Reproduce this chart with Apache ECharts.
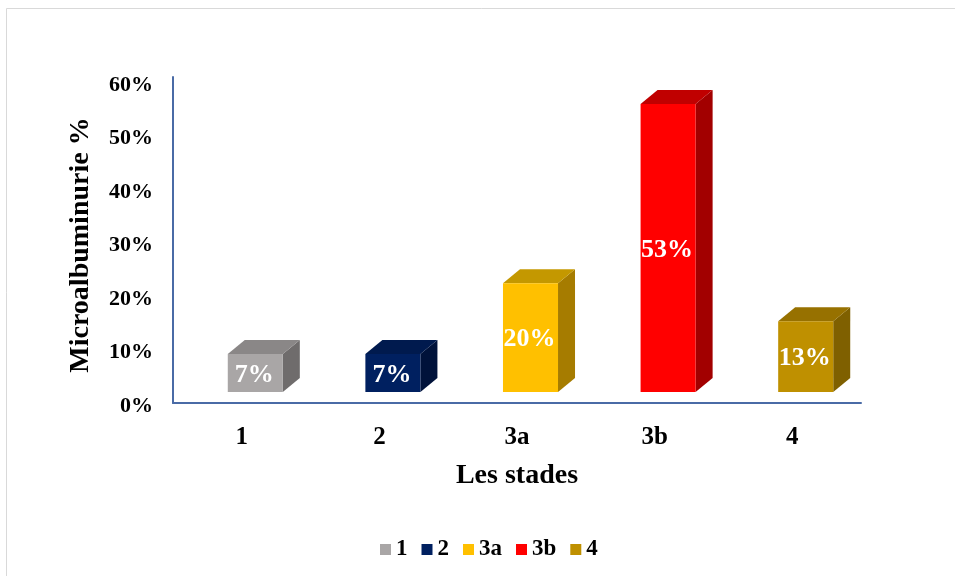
<!DOCTYPE html>
<html>
<head>
<meta charset="utf-8">
<script src="https://cdn.jsdelivr.net/npm/echarts@6/dist/echarts.min.js"></script>
<style>
  html, body { margin: 0; padding: 0; background: #ffffff; }
  #chart { width: 955px; height: 576px; }
</style>
</head>
<body>
<div id="chart"></div>
<script>
// Stades of the disease and share of patients with microalbuminuria (%)
const categories = ['1', '2', '3a', '3b', '4'];
const values = [7, 7, 20, 53, 13];

// Face colours of each 3D column: front, top, right side
const frontColors = ['#A9A6A6', '#002060', '#FFC000', '#FF0000', '#BF9000'];
const topColors   = ['#8A8787', '#001A4E', '#C49800', '#C00000', '#977100'];
const sideColors  = ['#6F6C6C', '#00123A', '#A67C00', '#A20000', '#7F6000'];

const FONT = "'Liberation Serif', 'Times New Roman', serif";
const DEPTH_X = 17;
const DEPTH_Y = 14;

function renderColumn(params, api) {
  const idx = params.seriesIndex;
  const topPt = api.coord([api.value(0), api.value(1)]);
  const basePt = api.coord([api.value(0), 0]);
  const w = api.size([1, 0])[0] * 0.4;
  const l = topPt[0] - w / 2;
  const r = topPt[0] + w / 2;
  const t = topPt[1];
  const b = basePt[1];
  return {
    type: 'group',
    children: [
      {
        type: 'polygon',
        shape: { points: [[r, t], [r + DEPTH_X, t - DEPTH_Y], [r + DEPTH_X, b - DEPTH_Y], [r, b]] },
        style: { fill: sideColors[idx] }
      },
      {
        type: 'polygon',
        shape: { points: [[l, t], [r, t], [r + DEPTH_X, t - DEPTH_Y], [l + DEPTH_X, t - DEPTH_Y]] },
        style: { fill: topColors[idx] }
      },
      {
        type: 'rect',
        shape: { x: l, y: t, width: w, height: b - t },
        style: { fill: frontColors[idx] }
      },
      {
        type: 'text',
        x: topPt[0] - 1,
        y: (t + b) / 2 + 2,
        style: {
          text: api.value(1) + '%',
          fill: '#ffffff',
          font: 'bold 26px ' + FONT,
          align: 'center',
          verticalAlign: 'middle'
        }
      }
    ]
  };
}

const series = categories.map(function (name, i) {
  return {
    name: name,
    type: 'custom',
    xAxisIndex: 1,
    yAxisIndex: 1,
    clip: false,
    itemStyle: { color: frontColors[i] },
    encode: { x: 0, y: 1 },
    data: [[i, values[i]]],
    renderItem: renderColumn
  };
});

const chart = echarts.init(document.getElementById('chart'), null, { renderer: 'canvas' });
chart.setOption({
  backgroundColor: '#ffffff',
  animation: false,
  graphic: [
    {
      type: 'rect',
      shape: { x: 6.5, y: 8.5, width: 1200, height: 800 },
      style: { fill: null, stroke: '#d9d9d9', lineWidth: 1 },
      silent: true
    }
  ],
  grid: [
    { left: 173, right: 94, top: 77, bottom: 173 },
    { left: 186.5, right: 80.5, top: 66, bottom: 184 }
  ],
  xAxis: [
    {
      type: 'category',
      gridIndex: 0,
      data: categories,
      name: 'Les stades',
      nameLocation: 'middle',
      nameGap: 59,
      nameTextStyle: { fontFamily: FONT, fontWeight: 'bold', fontSize: 28, color: '#000' },
      axisLine: { lineStyle: { color: '#4A6BA6', width: 2 } },
      axisTick: { show: false },
      axisLabel: { margin: 22, fontFamily: FONT, fontWeight: 'bold', fontSize: 25, color: '#000' },
      splitLine: { show: false }
    },
    {
      type: 'category',
      gridIndex: 1,
      data: categories,
      show: false
    }
  ],
  yAxis: [
    {
      type: 'value',
      gridIndex: 0,
      min: 0,
      max: 61,
      interval: 10,
      name: 'Microalbuminurie %',
      nameLocation: 'middle',
      nameGap: 78,
      nameTextStyle: { fontFamily: FONT, fontWeight: 'bold', fontSize: 28, color: '#000', padding: [0, 10, 0, 0] },
      axisLine: { show: true, lineStyle: { color: '#4A6BA6', width: 2 } },
      axisTick: { show: false },
      splitLine: { show: false },
      axisLabel: {
        margin: 20,
        fontFamily: FONT,
        fontWeight: 'bold',
        fontSize: 22,
        color: '#000',
        formatter: function (v) { return v % 10 === 0 ? '{t|' + v + '%}' : ''; },
        rich: {
          t: {
            fontFamily: FONT,
            fontWeight: 'bold',
            fontSize: 22,
            color: '#000',
            padding: [6, 0, 0, 0]
          }
        }
      }
    },
    {
      type: 'value',
      gridIndex: 1,
      min: 0,
      max: 60,
      show: false
    }
  ],
  legend: {
    data: categories,
    left: 380,
    top: 538,
    padding: 0,
    icon: 'rect',
    itemWidth: 11,
    itemHeight: 11,
    itemGap: 14,
    textStyle: { fontFamily: FONT, fontWeight: 'bold', fontSize: 23, color: '#000' }
  },
  series: series
});
</script>
</body>
</html>
